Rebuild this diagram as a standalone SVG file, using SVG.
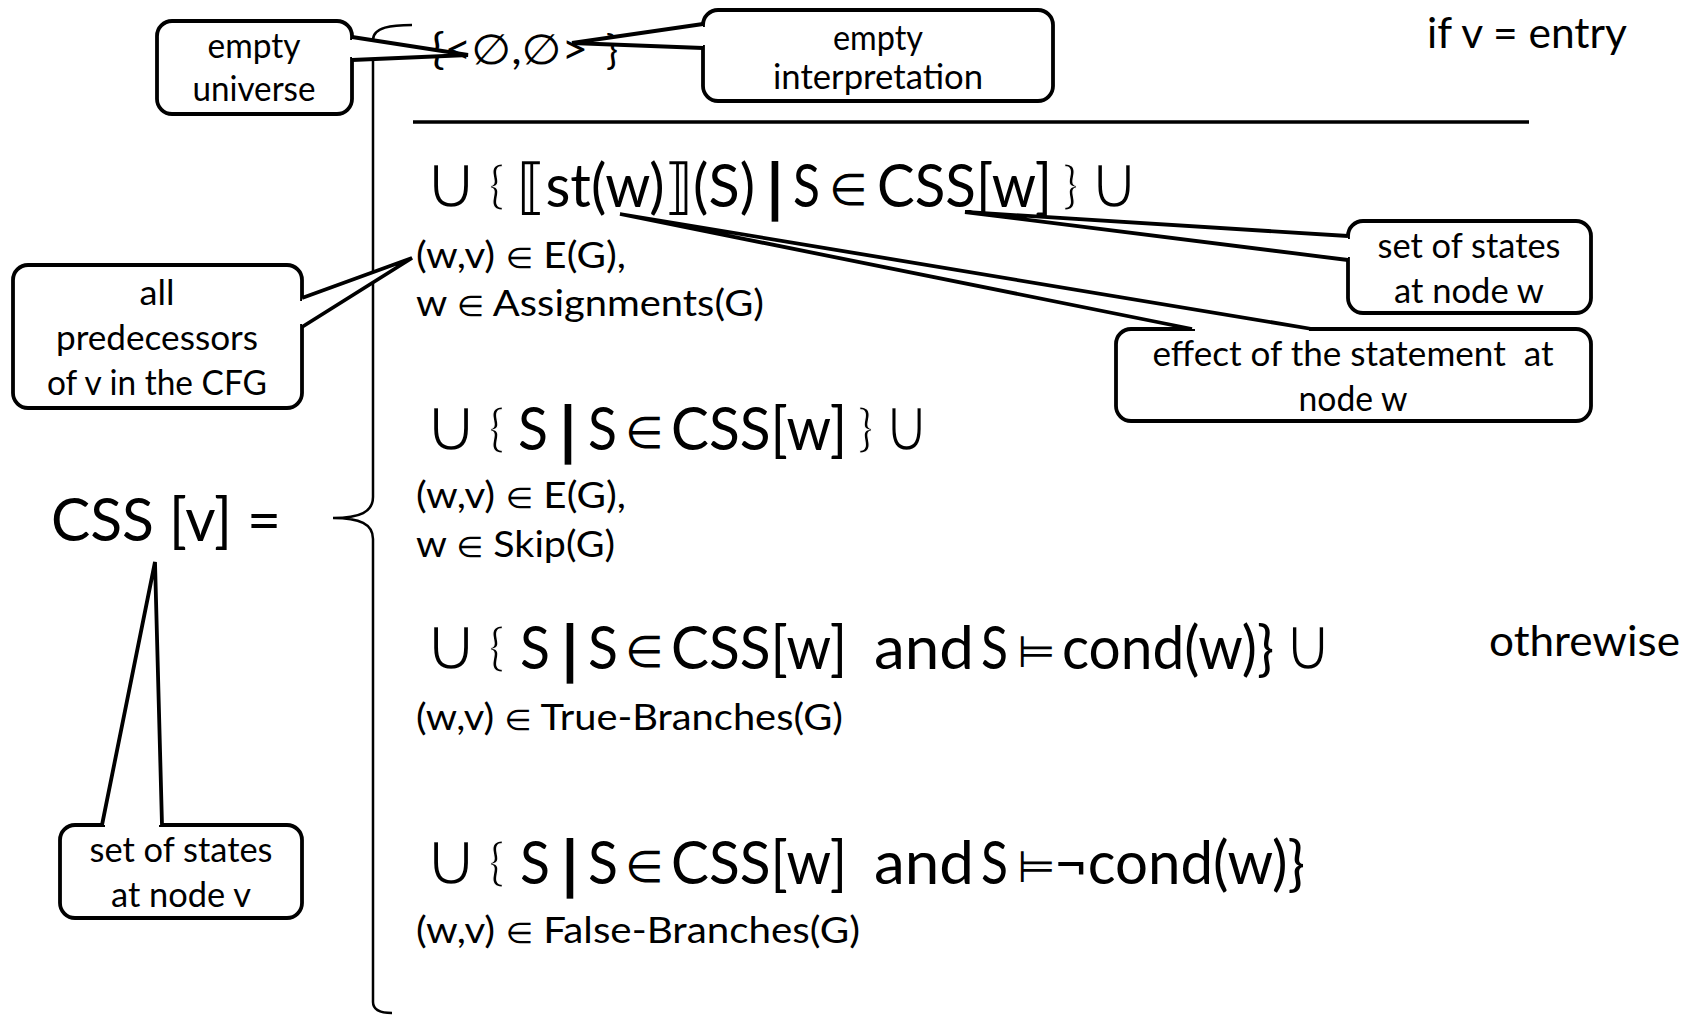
<svg xmlns="http://www.w3.org/2000/svg" width="1691" height="1016" viewBox="0 0 1691 1016">
  <style>
    .t { font-family: Lato, "DejaVu Sans", sans-serif; fill: #000; }
    .big { font-size: 60px; }
    .sub { font-size: 37px; }
    .side { font-size: 42px; }
    .c { font-size: 35px; text-anchor: middle; }
    .sym { font-family: "DejaVu Sans", sans-serif; fill: #000; }
    .cup { font-size: 76px; stroke: #fff; stroke-width: 2.6px; }
    .br { font-family: Lato, "DejaVu Sans", sans-serif; font-size: 50px; stroke: #fff; stroke-width: 1.2px; }
    .rel { font-size: 44px; }
    .el { font-size: 29px; }
    .bar { font-family: "DejaVu Sans", sans-serif; font-weight: bold; font-size: 60px; }
    .box { fill: #fff; stroke: #000; stroke-width: 3.8; }
    .wedge { fill: #fff; stroke: #000; stroke-width: 3.8; stroke-linejoin: miter; }
    .gap { stroke: #fff; stroke-width: 5.5; }
    .rule { stroke: #000; stroke-width: 3.5; }
    .brace { fill: none; stroke: #000; stroke-width: 2.5; }
  </style>

  <!-- left-hand side -->
  <text class="t" x="51" y="541" font-size="60" textLength="230" lengthAdjust="spacingAndGlyphs">CSS [v] =</text>

  <!-- case brace and separator -->
  <g id="layout">
    <path class="brace" d="M412,25 C392,25 373,27 373,40 L373,497 C373,512 360,518 333,518 C360,518 373,524 373,539 L373,1002 C373,1010 380,1013 392,1013"/>
    <line class="rule" x1="413" y1="122" x2="1529" y2="122"/>
  </g>

  <!-- entry case -->
  <g id="entry-case">
    <text class="t" x="431" y="64" font-size="42" textLength="157" lengthAdjust="spacingAndGlyphs">{&lt;∅,∅&gt;</text>
    <text class="t" x="606" y="64" font-size="40">}</text>
    <text class="t side" x="1427" y="48" textLength="200" lengthAdjust="spacingAndGlyphs">if v = entry</text>
  </g>

  <!-- assignment predecessors -->
  <g id="case-assign">
    <text class="sym cup" x="423" y="208" textLength="56" lengthAdjust="spacingAndGlyphs">∪</text>
    <text class="br" x="489" y="203">{</text>
    <text class="t big" x="517" y="207" textLength="238" lengthAdjust="spacingAndGlyphs">⟦st(w)⟧(S)</text>
    <text class="bar" x="764" y="207">|</text>
    <text class="t big" x="793" y="207" textLength="27" lengthAdjust="spacingAndGlyphs">S</text>
    <text class="sym rel" x="829" y="205">∈</text>
    <text class="t big" x="877" y="207" textLength="175" lengthAdjust="spacingAndGlyphs">CSS[w]</text>
    <text class="br" x="1063" y="203">}</text>
    <text class="sym cup" x="1088" y="208" textLength="52" lengthAdjust="spacingAndGlyphs">∪</text>
    <text class="t sub" x="416" y="268" textLength="210" lengthAdjust="spacingAndGlyphs">(w,v) <tspan class="el">∈</tspan> E(G),</text>
    <text class="t sub" x="416" y="316" textLength="348" lengthAdjust="spacingAndGlyphs">w <tspan class="el">∈</tspan> Assignments(G)</text>
  </g>

  <!-- skip predecessors -->
  <g id="case-skip">
    <text class="sym cup" x="423" y="451" textLength="56" lengthAdjust="spacingAndGlyphs">∪</text>
    <text class="br" x="489" y="446">{</text>
    <text class="t big" x="518" y="450" textLength="30" lengthAdjust="spacingAndGlyphs">S</text>
    <text class="bar" x="557" y="450">|</text>
    <text class="t big" x="588" y="450" textLength="29" lengthAdjust="spacingAndGlyphs">S</text>
    <text class="sym rel" x="625" y="448">∈</text>
    <text class="t big" x="671" y="450" textLength="176" lengthAdjust="spacingAndGlyphs">CSS[w]</text>
    <text class="br" x="858" y="446">}</text>
    <text class="sym cup" x="883" y="451" textLength="47" lengthAdjust="spacingAndGlyphs">∪</text>
    <text class="t sub" x="416" y="508" textLength="210" lengthAdjust="spacingAndGlyphs">(w,v) <tspan class="el">∈</tspan> E(G),</text>
    <text class="t sub" x="416" y="557" textLength="199" lengthAdjust="spacingAndGlyphs">w <tspan class="el">∈</tspan> Skip(G)</text>
  </g>

  <!-- true branches -->
  <g id="case-true">
    <text class="sym cup" x="423" y="670" textLength="56" lengthAdjust="spacingAndGlyphs">∪</text>
    <text class="br" x="489" y="665">{</text>
    <text class="t big" x="520" y="669" textLength="30" lengthAdjust="spacingAndGlyphs">S</text>
    <text class="bar" x="559" y="669">|</text>
    <text class="t big" x="588" y="669" textLength="30" lengthAdjust="spacingAndGlyphs">S</text>
    <text class="sym rel" x="625" y="667">∈</text>
    <text class="t big" x="671" y="669" textLength="176" lengthAdjust="spacingAndGlyphs">CSS[w]</text>
    <text class="t big" x="874" y="669" textLength="100" lengthAdjust="spacingAndGlyphs">and</text>
    <text class="t big" x="981" y="669" textLength="27" lengthAdjust="spacingAndGlyphs">S</text>
    <text class="sym rel" x="1017" y="667">⊨</text>
    <text class="t big" x="1062" y="669" textLength="212" lengthAdjust="spacingAndGlyphs">cond(w)}</text>
    <text class="sym cup" x="1283" y="670" textLength="50" lengthAdjust="spacingAndGlyphs">∪</text>
    <text class="t sub" x="416" y="730" textLength="427" lengthAdjust="spacingAndGlyphs">(w,v) <tspan class="el">∈</tspan> True-Branches(G)</text>
    <text class="t side" x="1489" y="656" textLength="191" lengthAdjust="spacingAndGlyphs">othrewise</text>
  </g>

  <!-- false branches -->
  <g id="case-false">
    <text class="sym cup" x="423" y="885" textLength="56" lengthAdjust="spacingAndGlyphs">∪</text>
    <text class="br" x="489" y="880">{</text>
    <text class="t big" x="520" y="884" textLength="30" lengthAdjust="spacingAndGlyphs">S</text>
    <text class="bar" x="559" y="884">|</text>
    <text class="t big" x="588" y="884" textLength="30" lengthAdjust="spacingAndGlyphs">S</text>
    <text class="sym rel" x="625" y="882">∈</text>
    <text class="t big" x="671" y="884" textLength="176" lengthAdjust="spacingAndGlyphs">CSS[w]</text>
    <text class="t big" x="874" y="884" textLength="100" lengthAdjust="spacingAndGlyphs">and</text>
    <text class="t big" x="981" y="884" textLength="27" lengthAdjust="spacingAndGlyphs">S</text>
    <text class="sym rel" x="1017" y="882">⊨</text>
    <text class="t big" x="1054" y="884" textLength="251" lengthAdjust="spacingAndGlyphs">¬cond(w)}</text>
    <text class="t sub" x="416" y="943" textLength="444" lengthAdjust="spacingAndGlyphs">(w,v) <tspan class="el">∈</tspan> False-Branches(G)</text>
  </g>

  <!-- callout boxes -->
  <g id="empty-universe">
    <rect class="box" x="157" y="21" width="195" height="93" rx="15"/>
    <text class="t c" x="254" y="58" textLength="93" lengthAdjust="spacingAndGlyphs">empty</text>
    <text class="t c" x="254" y="101" textLength="123" lengthAdjust="spacingAndGlyphs">universe</text>
  </g>
  <g id="empty-interpretation">
    <rect class="box" x="703" y="10" width="350" height="91" rx="15"/>
    <text class="t c" x="878" y="50" textLength="90" lengthAdjust="spacingAndGlyphs">empty</text>
    <text class="t c" x="878" y="89" textLength="210" lengthAdjust="spacingAndGlyphs">interpretation</text>
  </g>
  <g id="states-at-w">
    <rect class="box" x="1348" y="221" width="243" height="92" rx="15"/>
    <text class="t c" x="1469" y="258" textLength="183" lengthAdjust="spacingAndGlyphs">set of states</text>
    <text class="t c" x="1469" y="303" textLength="150" lengthAdjust="spacingAndGlyphs">at node w</text>
  </g>
  <g id="statement-effect">
    <rect class="box" x="1116" y="329" width="475" height="92" rx="15"/>
    <text class="t c" x="1353" y="366" textLength="401" lengthAdjust="spacingAndGlyphs" xml:space="preserve">effect of the statement  at</text>
    <text class="t c" x="1353" y="411" textLength="109" lengthAdjust="spacingAndGlyphs">node w</text>
  </g>
  <g id="predecessors">
    <rect class="box" x="13" y="265" width="289" height="143" rx="15"/>
    <text class="t c" x="157" y="305" textLength="35" lengthAdjust="spacingAndGlyphs">all</text>
    <text class="t c" x="157" y="350" textLength="202" lengthAdjust="spacingAndGlyphs">predecessors</text>
    <text class="t c" x="157" y="395" textLength="220" lengthAdjust="spacingAndGlyphs">of v in the CFG</text>
  </g>
  <g id="states-at-v">
    <rect class="box" x="60" y="825" width="242" height="93" rx="15"/>
    <text class="t c" x="181" y="862" textLength="183" lengthAdjust="spacingAndGlyphs">set of states</text>
    <text class="t c" x="181" y="907" textLength="140" lengthAdjust="spacingAndGlyphs">at node v</text>
  </g>

  <!-- callout pointers -->
  <g id="connectors">
    <line class="gap" x1="352" y1="40" x2="352" y2="57"/>
    <path class="wedge" d="M352,37 L468,55 L352,60"/>
    <line class="gap" x1="703" y1="27" x2="703" y2="45"/>
    <path class="wedge" d="M703,24 L572,43 L703,48"/>
    <line class="gap" x1="1348" y1="239" x2="1348" y2="257"/>
    <path class="wedge" d="M1348,236 L965,212 L1348,260"/>
    <line class="gap" x1="1195" y1="329" x2="1309" y2="329"/>
    <path class="wedge" d="M1192,329 L620,214 L1312,329"/>
    <line class="gap" x1="302" y1="301" x2="302" y2="324"/>
    <path class="wedge" d="M302,298 L412,258 L302,327"/>
    <line class="gap" x1="105" y1="825" x2="159" y2="825"/>
    <path class="wedge" d="M102,825 L155,562 L162,825"/>
  </g>
</svg>
